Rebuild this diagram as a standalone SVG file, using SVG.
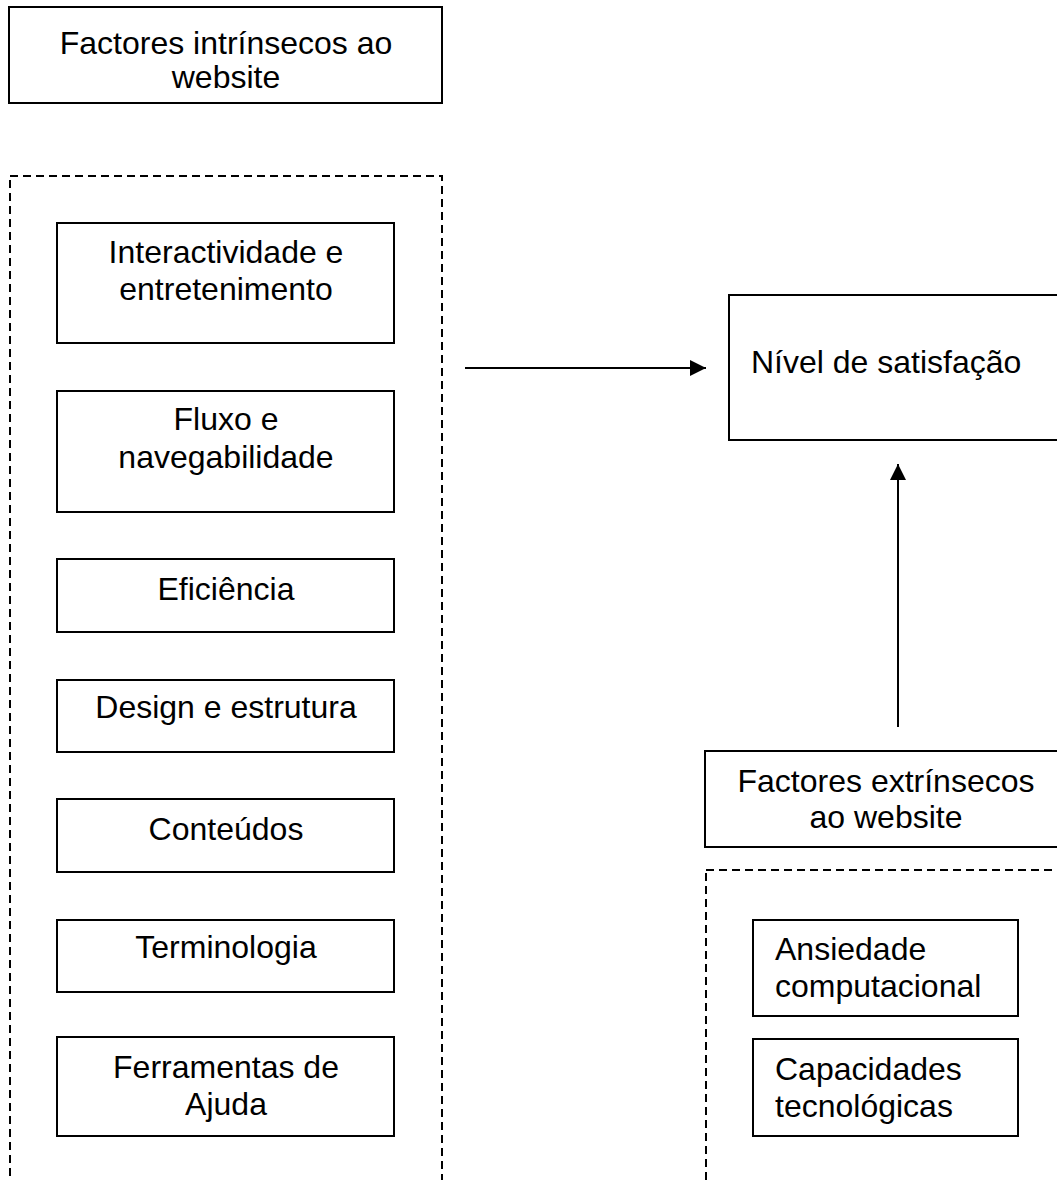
<svg xmlns="http://www.w3.org/2000/svg" width="1057" height="1180" viewBox="0 0 1057 1180">
<defs>
<style>
.box{fill:#fff;stroke:#000;stroke-width:2}
.dash{fill:none;stroke:#000;stroke-width:2;stroke-dasharray:8 5}
.t{font-family:"Liberation Sans",Arial,sans-serif;font-size:32px;fill:#000}
.c{text-anchor:middle}
.conn{stroke:#000;stroke-width:2;fill:none}
</style>
<marker id="ah" viewBox="0 0 16 16" refX="16" refY="8" markerWidth="16" markerHeight="16" markerUnits="userSpaceOnUse" orient="auto">
<path d="M0,0 L16,8 L0,16 Z" fill="#000"/>
</marker>
</defs>
<rect width="1057" height="1180" fill="#fff"/>

<g id="intrinsic-title">
<rect class="box" x="9" y="7" width="433" height="96"/>
<text class="t c" x="226" y="54">Factores intrínsecos ao</text>
<text class="t c" x="226" y="88">website</text>
</g>

<g id="intrinsic-group">
<rect class="dash" x="10" y="176" width="432" height="1030"/>
</g>

<g id="interactividade">
<rect class="box" x="57" y="223" width="337" height="120"/>
<text class="t c" x="226" y="263">Interactividade e</text>
<text class="t c" x="226" y="300">entretenimento</text>
</g>

<g id="fluxo">
<rect class="box" x="57" y="391" width="337" height="121"/>
<text class="t c" x="226" y="430">Fluxo e</text>
<text class="t c" x="226" y="468">navegabilidade</text>
</g>

<g id="eficiencia">
<rect class="box" x="57" y="559" width="337" height="73"/>
<text class="t c" x="226" y="600">Eficiência</text>
</g>

<g id="design">
<rect class="box" x="57" y="680" width="337" height="72"/>
<text class="t c" x="226" y="718">Design e estrutura</text>
</g>

<g id="conteudos">
<rect class="box" x="57" y="799" width="337" height="73"/>
<text class="t c" x="226" y="840">Conteúdos</text>
</g>

<g id="terminologia">
<rect class="box" x="57" y="920" width="337" height="72"/>
<text class="t c" x="226" y="958">Terminologia</text>
</g>

<g id="ferramentas">
<rect class="box" x="57" y="1037" width="337" height="99"/>
<text class="t c" x="226" y="1078">Ferramentas de</text>
<text class="t c" x="226" y="1115">Ajuda</text>
</g>

<g id="nivel">
<rect class="box" x="729" y="295" width="360" height="145"/>
<text class="t" x="751" y="373">Nível de satisfação</text>
</g>

<g id="extrinsic-title">
<rect class="box" x="705" y="751" width="362" height="96"/>
<text class="t c" x="886" y="792">Factores extrínsecos</text>
<text class="t c" x="886" y="828">ao website</text>
</g>

<g id="extrinsic-group">
<rect class="dash" x="706" y="870" width="400" height="340"/>
</g>

<g id="ansiedade">
<rect class="box" x="753" y="920" width="265" height="96"/>
<text class="t" x="775" y="960">Ansiedade</text>
<text class="t" x="775" y="997">computacional</text>
</g>

<g id="capacidades">
<rect class="box" x="753" y="1039" width="265" height="97"/>
<text class="t" x="775" y="1080">Capacidades</text>
<text class="t" x="775" y="1117">tecnológicas</text>
</g>

<g id="connectors">
<line class="conn" x1="465" y1="368" x2="706" y2="368" marker-end="url(#ah)"/>
<line class="conn" x1="898" y1="727" x2="898" y2="464" marker-end="url(#ah)"/>
</g>
</svg>
